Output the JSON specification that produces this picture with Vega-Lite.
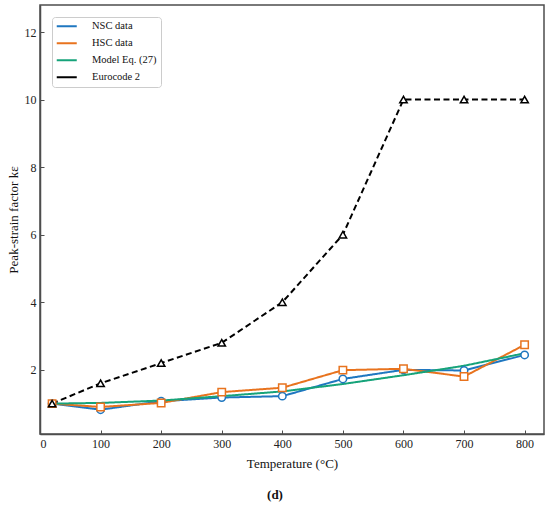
{
  "$schema": "https://vega.github.io/schema/vega-lite/v6.json",
  "width": 504,
  "height": 429,
  "autosize": {"type": "none"},
  "padding": {"left": 40, "top": 5, "right": 6, "bottom": 78},
  "config": {
    "font": "Liberation Serif",
    "view": {"stroke": "#4d4d4d", "strokeWidth": 1.5},
    "axis": {
      "grid": false,
      "domainColor": "#4d4d4d",
      "domainWidth": 1.5,
      "tickColor": "#4d4d4d",
      "tickSize": -4,
      "tickWidth": 1,
      "labelFont": "Liberation Serif",
      "labelFontSize": 12,
      "labelColor": "#222222",
      "titleFont": "Liberation Serif",
      "titleFontSize": 13,
      "titleFontWeight": "normal",
      "titleColor": "#111111"
    }
  },
  "title": {
    "text": "(d)",
    "orient": "bottom",
    "font": "Liberation Serif",
    "fontSize": 13,
    "fontWeight": "bold",
    "color": "#111111",
    "dx": -17,
    "offset": 19
  },
  "data": {
    "values": [
      {"series": "NSC data", "T": 20, "k": 1.0},
      {"series": "NSC data", "T": 100, "k": 0.82},
      {"series": "NSC data", "T": 200, "k": 1.07},
      {"series": "NSC data", "T": 300, "k": 1.18},
      {"series": "NSC data", "T": 400, "k": 1.22},
      {"series": "NSC data", "T": 500, "k": 1.73},
      {"series": "NSC data", "T": 600, "k": 2.0},
      {"series": "NSC data", "T": 700, "k": 1.98},
      {"series": "NSC data", "T": 800, "k": 2.44},
      {"series": "HSC data", "T": 20, "k": 1.0},
      {"series": "HSC data", "T": 100, "k": 0.9},
      {"series": "HSC data", "T": 200, "k": 1.02},
      {"series": "HSC data", "T": 300, "k": 1.34},
      {"series": "HSC data", "T": 400, "k": 1.47},
      {"series": "HSC data", "T": 500, "k": 1.99},
      {"series": "HSC data", "T": 600, "k": 2.03},
      {"series": "HSC data", "T": 700, "k": 1.8},
      {"series": "HSC data", "T": 800, "k": 2.74},
      {"series": "Model Eq. (27)", "T": 20, "k": 1.0},
      {"series": "Model Eq. (27)", "T": 100, "k": 1.02},
      {"series": "Model Eq. (27)", "T": 200, "k": 1.09},
      {"series": "Model Eq. (27)", "T": 300, "k": 1.22},
      {"series": "Model Eq. (27)", "T": 400, "k": 1.36},
      {"series": "Model Eq. (27)", "T": 500, "k": 1.58},
      {"series": "Model Eq. (27)", "T": 600, "k": 1.84},
      {"series": "Model Eq. (27)", "T": 700, "k": 2.12},
      {"series": "Model Eq. (27)", "T": 800, "k": 2.49},
      {"series": "Eurocode 2", "T": 20, "k": 1.0},
      {"series": "Eurocode 2", "T": 100, "k": 1.6},
      {"series": "Eurocode 2", "T": 200, "k": 2.2},
      {"series": "Eurocode 2", "T": 300, "k": 2.8},
      {"series": "Eurocode 2", "T": 400, "k": 4.0},
      {"series": "Eurocode 2", "T": 500, "k": 6.0},
      {"series": "Eurocode 2", "T": 600, "k": 10.0},
      {"series": "Eurocode 2", "T": 700, "k": 10.0},
      {"series": "Eurocode 2", "T": 800, "k": 10.0}
    ]
  },
  "encoding": {
    "x": {
      "field": "T",
      "type": "quantitative",
      "scale": {"domain": [0, 832], "nice": false},
      "axis": {"title": "Temperature (°C)", "values": [0, 100, 200, 300, 400, 500, 600, 700, 800], "labelPadding": 8, "titlePadding": 8}
    },
    "y": {
      "field": "k",
      "type": "quantitative",
      "scale": {"domain": [0.1, 12.8], "nice": false, "zero": false},
      "axis": {"title": "Peak-strain factor kε", "values": [2, 4, 6, 8, 10, 12], "labelPadding": 8, "titlePadding": 4}
    }
  },
  "layer": [
    {
      "mark": {"type": "line", "strokeWidth": 2},
      "encoding": {
        "color": {
          "field": "series",
          "type": "nominal",
          "sort": ["NSC data", "HSC data", "Model Eq. (27)", "Eurocode 2"],
          "scale": {"range": ["#1f77c0", "#e8731e", "#16a37a", "#000000"]},
          "legend": {
            "orient": "none",
            "legendX": 12,
            "legendY": 12,
            "title": null,
            "symbolType": "M-2.86,0H2.86",
            "symbolSize": 49,
            "symbolOffset": 5.5,
            "symbolStrokeWidth": 2,
            "labelFont": "Liberation Serif",
            "labelFontSize": 10.5,
            "labelColor": "#111111",
            "labelOffset": 20,
            "rowPadding": 6,
            "padding": 4,
            "strokeColor": "#cccccc",
            "cornerRadius": 3
          }
        },
        "strokeDash": {
          "field": "series",
          "type": "nominal",
          "scale": {
            "domain": ["NSC data", "HSC data", "Model Eq. (27)", "Eurocode 2"],
            "range": [[1, 0], [1, 0], [1, 0], [6, 3.5]]
          },
          "legend": null
        }
      }
    },
    {
      "mark": {"type": "point", "filled": false, "fill": "white", "fillOpacity": 1, "opacity": 1, "size": 55, "strokeWidth": 1.5},
      "encoding": {
        "stroke": {
          "field": "series",
          "type": "nominal",
          "scale": {
            "domain": ["NSC data", "HSC data", "Model Eq. (27)", "Eurocode 2"],
            "range": ["#1f77c0", "#e8731e", "#16a37a", "#000000"]
          },
          "legend": {
            "orient": "top-left",
            "offset": 12,
            "title": null,
            "symbolSize": 49,
            "symbolOffset": 5.5,
            "symbolStrokeWidth": 1.5,
            "symbolFillColor": "white",
            "labelFont": "Liberation Serif",
            "labelFontSize": 10.5,
            "labelOpacity": 0,
            "labelOffset": 20,
            "rowPadding": 6,
            "padding": 4
          }
        },
        "shape": {
          "field": "series",
          "type": "nominal",
          "scale": {
            "domain": ["NSC data", "HSC data", "Model Eq. (27)", "Eurocode 2"],
            "range": ["circle", "square", "M0,0", "triangle-up"]
          },
          "legend": {
            "orient": "top-left",
            "offset": 12,
            "title": null,
            "symbolSize": 49,
            "symbolOffset": 5.5,
            "symbolStrokeWidth": 1.5,
            "symbolFillColor": "white",
            "labelFont": "Liberation Serif",
            "labelFontSize": 10.5,
            "labelOpacity": 0,
            "labelOffset": 20,
            "rowPadding": 6,
            "padding": 4
          }
        }
      }
    }
  ]
}
